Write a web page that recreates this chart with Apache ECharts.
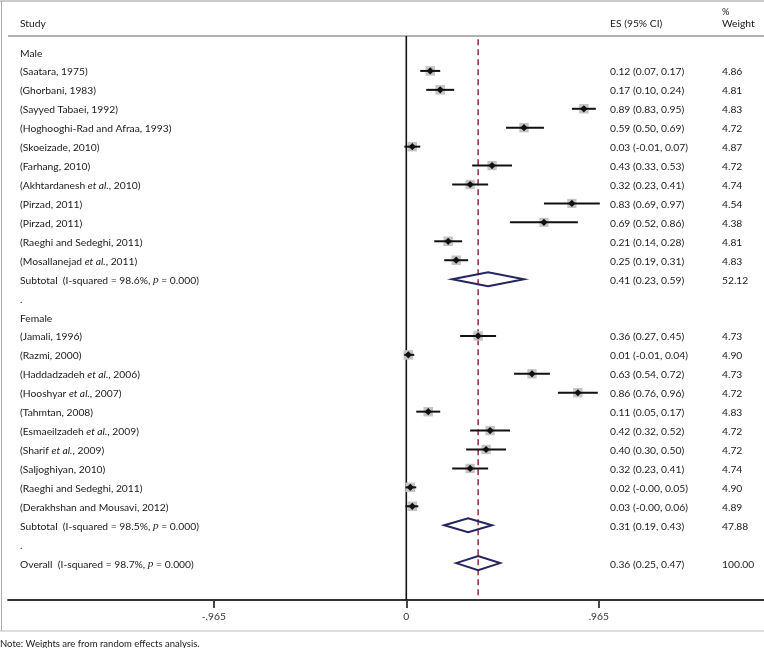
<!DOCTYPE html>
<html><head><meta charset="utf-8">
<script src="https://cdn.jsdelivr.net/npm/echarts@6/dist/echarts.min.js"></script>
<style>html,body{margin:0;padding:0;background:#fff}#c{width:764px;height:648px}</style>
</head><body><div id="c"></div>
<script>
// ---- data ----
const maleStudies = ['(Saatara, 1975)','(Ghorbani, 1983)','(Sayyed Tabaei, 1992)','(Hoghooghi-Rad and Afraa, 1993)','(Skoeizade, 2010)','(Farhang, 2010)','(Akhtardanesh {i|et al.}, 2010)','(Pirzad, 2011)','(Pirzad, 2011)','(Raeghi and Sedeghi, 2011)','(Mosallanejad {i|et al.}, 2011)'];
const maleES = [0.12,0.17,0.89,0.59,0.03,0.43,0.32,0.83,0.69,0.21,0.25];
const maleLo = [0.07,0.10,0.83,0.50,-0.01,0.33,0.23,0.69,0.52,0.14,0.19];
const maleHi = [0.17,0.24,0.95,0.69,0.07,0.53,0.41,0.97,0.86,0.28,0.31];
const maleW  = [4.86,4.81,4.83,4.72,4.87,4.72,4.74,4.54,4.38,4.81,4.83];
const femaleStudies = ['(Jamali, 1996)','(Razmi, 2000)','(Haddadzadeh {i|et al.}, 2006)','(Hooshyar {i|et al.}, 2007)','(Tahmtan, 2008)','(Esmaeilzadeh {i|et al.}, 2009)','(Sharif {i|et al.}, 2009)','(Saljoghiyan, 2010)','(Raeghi and Sedeghi, 2011)','(Derakhshan and Mousavi, 2012)'];
const femaleES = [0.36,0.01,0.63,0.86,0.11,0.42,0.40,0.32,0.02,0.03];
const femaleLo = [0.27,-0.01,0.54,0.76,0.05,0.32,0.30,0.23,-0.004,-0.004];
const femaleHi = [0.45,0.04,0.72,0.96,0.17,0.52,0.50,0.41,0.05,0.06];
const femaleW  = [4.73,4.90,4.73,4.72,4.83,4.72,4.72,4.74,4.90,4.89];
const pooledLabels = ['Subtotal  (I-squared = 98.6%, {p|p} = 0.000)','Subtotal  (I-squared = 98.5%, {p|p} = 0.000)','Overall  (I-squared = 98.7%, {p|p} = 0.000)'];
const pooledES = [0.41,0.31,0.36];
const pooledLo = [0.23,0.19,0.25];
const pooledHi = [0.59,0.43,0.47];
const pooledW  = [52.12,47.88,100.00];
const tickValues = [-0.965,0,0.965];
const tickLabels = ['-.965','0','.965'];

// ---- rows ----
const rows = [];
let r = 0;
rows.push({row:r++, kind:'head', label:'Male'});
maleStudies.forEach((s,i)=>rows.push({row:r++, kind:'study', label:s, es:maleES[i], lo:maleLo[i], hi:maleHi[i], w:maleW[i]}));
rows.push({row:r++, kind:'pool', label:pooledLabels[0], es:pooledES[0], lo:pooledLo[0], hi:pooledHi[0], w:pooledW[0]});
rows.push({row:r++, kind:'head', label:'.'});
rows.push({row:r++, kind:'head', label:'Female'});
femaleStudies.forEach((s,i)=>rows.push({row:r++, kind:'study', label:s, es:femaleES[i], lo:femaleLo[i], hi:femaleHi[i], w:femaleW[i]}));
rows.push({row:r++, kind:'pool', label:pooledLabels[1], es:pooledES[1], lo:pooledLo[1], hi:pooledHi[1], w:pooledW[1]});
rows.push({row:r++, kind:'head', label:'.'});
rows.push({row:r++, kind:'pool', label:pooledLabels[2], es:pooledES[2], lo:pooledLo[2], hi:pooledHi[2], w:pooledW[2]});

const FONT = 'Lato';
const FS = 10.3;
const TXT = '#1a1a1a';
const TY = 1.2; // text baseline nudge
const rich = {
  i:{fontStyle:'italic', fontFamily:FONT, fontSize:FS, fill:TXT},
  p:{fontStyle:'italic', fontFamily:'Liberation Serif', fontSize:FS+1, fill:TXT}
};
function fmt(v){return v.toFixed(2);}

function renderRow(params, api){
  const d = rows[params.dataIndex];
  const y = api.coord([0, d.row])[1];
  const ch = [];
  if (d.kind==='study'){
    const xe = api.coord([d.es, d.row])[0];
    const xl = api.coord([d.lo, d.row])[0];
    const xh = api.coord([d.hi, d.row])[0];
    const s = 9.5*Math.sqrt(d.w/4.86);
    ch.push({type:'rect', shape:{x:xe-s/2, y:y-s/2, width:s, height:s}, style:{fill:'#c4c4c4'}});
    ch.push({type:'line', shape:{x1:xl, y1:y, x2:xh, y2:y}, style:{stroke:'#111', lineWidth:2}});
    const m = 3.6;
    ch.push({type:'polygon', shape:{points:[[xe-m,y],[xe,y-m],[xe+m,y],[xe,y+m]]}, style:{fill:'#111'}});
  } else if (d.kind==='pool'){
    const xe = api.coord([d.es, d.row])[0];
    const xl = api.coord([d.lo, d.row])[0];
    const xh = api.coord([d.hi, d.row])[0];
    const h = 7;
    ch.push({type:'polygon', shape:{points:[[xl,y],[xe,y-h],[xh,y],[xe,y+h]]}, style:{fill:'none', stroke:'#24245e', lineWidth:2}});
  }
  ch.push({type:'text', style:{text:d.label, x:20, y:y+TY, fontFamily:FONT, fontSize:FS, fill:TXT, verticalAlign:'middle', rich:rich}});
  if (d.kind!=='head'){
    ch.push({type:'text', style:{text:fmt(d.es)+' ('+fmt(d.lo)+', '+fmt(d.hi)+')', x:610, y:y+TY, fontFamily:FONT, fontSize:FS, fill:TXT, verticalAlign:'middle'}});
    ch.push({type:'text', style:{text:fmt(d.w), x:722, y:y+TY, fontFamily:FONT, fontSize:FS, fill:TXT, verticalAlign:'middle'}});
  }
  return {type:'group', children:ch};
}

const overallES = pooledES[2];
const ROW_TOP = -0.845, ROW_BOTTOM = 28.95;

const chart = echarts.init(document.getElementById('c'), null, {renderer:'canvas'});
chart.setOption({
  backgroundColor:'#fff',
  animation:false,
  grid:{left:8, right:0, top:33.07, bottom:48, containLabel:false},
  xAxis:{type:'value', min:-1.9965, max:1.793,
    axisLine:{show:true, onZero:false, lineStyle:{color:'#333', width:1.8}},
    axisTick:{show:true, customValues:tickValues, length:8, lineStyle:{color:'#333', width:1.8}},
    axisLabel:{show:true, customValues:tickValues, margin:12, fontFamily:FONT, fontSize:FS, color:'#333',
      formatter:(v)=>{const k=tickValues.findIndex(t=>Math.abs(t-v)<1e-9);return k>=0?tickLabels[k]:'';}},
    splitLine:{show:false}},
  yAxis:{type:'value', inverse:true, min:-1, max:ROW_BOTTOM, show:false},
  series:[
    {type:'line', data:[[0,ROW_TOP],[0,ROW_BOTTOM]], symbol:'none', lineStyle:{color:'#111', width:1.6}, z:1},
    {type:'line', data:[[overallES,-0.68],[overallES,ROW_BOTTOM]], symbol:'none', lineStyle:{color:'#8c2b3b', width:1.5, type:[6,4]}, z:1},
    {type:'custom', data:rows.map(d=>[d.es===undefined?0:d.es, d.row]), renderItem:renderRow, z:3, clip:false}
  ],
  graphic:[
    {type:'line', shape:{x1:0,y1:1,x2:764,y2:1}, style:{stroke:'#999', lineWidth:1}},
    {type:'line', shape:{x1:1.5,y1:1,x2:1.5,y2:631}, style:{stroke:'#aaa', lineWidth:1}},
    {type:'line', shape:{x1:0,y1:631,x2:764,y2:631}, style:{stroke:'#bbb', lineWidth:1.2}},
    {type:'line', shape:{x1:8,y1:36,x2:764,y2:36}, style:{stroke:'#999', lineWidth:1.4}},
    {type:'text', style:{text:'Study', x:20, y:24, fontFamily:FONT, fontSize:FS, fill:TXT, verticalAlign:'middle'}},
    {type:'text', style:{text:'ES (95% CI)', x:610, y:24, fontFamily:FONT, fontSize:FS, fill:TXT, verticalAlign:'middle'}},
    {type:'text', style:{text:'%', x:722, y:12, fontFamily:FONT, fontSize:FS-1, fill:TXT, verticalAlign:'middle'}},
    {type:'text', style:{text:'Weight', x:722, y:24, fontFamily:FONT, fontSize:FS, fill:TXT, verticalAlign:'middle'}},
    {type:'text', style:{text:'Note: Weights are from random effects analysis.', x:0, y:644, fontFamily:FONT, fontSize:9.5, fill:TXT, verticalAlign:'middle'}}
  ]
});
</script></body></html>
